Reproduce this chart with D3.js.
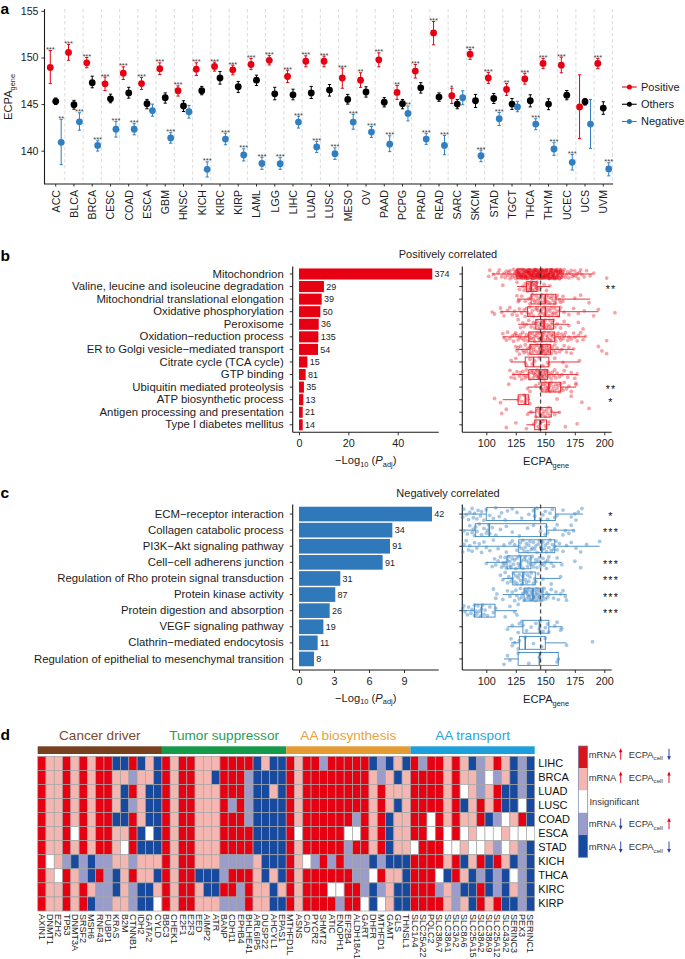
<!DOCTYPE html>
<html><head><meta charset="utf-8">
<script src="https://cdn.jsdelivr.net/npm/d3@7/dist/d3.min.js"></script>
<style>html,body{margin:0;background:#fff}svg{display:block;font-family:"Liberation Sans",Arial,sans-serif}</style>
</head><body><svg id="c" width="685" height="959"></svg>
<script>
// ---------- panel a data ----------
const cancers=["ACC","BLCA","BRCA","CESC","COAD","ESCA","GBM","HNSC","KICH","KIRC","KIRP","LAML","LGG","LIHC","LUAD","LUSC","MESO","OV","PAAD","PCPG","PRAD","READ","SARC","SKCM","STAD","TGCT","THCA","THYM","UCEC","UCS","UVM"];
const posMean=[148.93,150.54,149.43,147.18,148.32,147.2,148.8,146.43,148.75,149.04,148.68,149.25,149.7,147.96,149.6,149.6,147.8,147.57,149.75,146.25,148.54,152.64,145.9,150.36,147.8,146.57,147.7,149.36,149.18,144.7,149.36];
const posHi=[150.75,151.4,150,147.9,149,147.86,149.43,146.96,149.43,149.5,149.18,149.9,150.2,148.64,150.18,150.14,148.86,148.36,150.5,147,149.25,153.86,146.7,150.86,148.4,147.2,148.3,149.9,150.04,148.14,149.9];
const posLo=[147.2,149.7,148.9,146.46,147.64,146.57,148.18,145.86,148.07,148.54,148.14,148.7,149.2,147.3,149,149,146.7,146.8,149,145.5,147.8,151.36,145.07,149.8,147.2,145.93,147.14,148.8,148.36,141.3,148.8];
const posStars=["***","***","***","***","***","***","***","***","***","***","***","***","***","***","***","***","***","**","***","**","***","***","*","***","***","**","***","***","***","","***"];
const othMean=[145.3,144.93,147.3,145.57,146.2,145.04,145.68,144.8,146.43,147.8,146.86,147.57,146.1,146,146.2,146.5,145.5,146.3,145.2,145.04,146.75,145.75,145,145.36,145.6,145,145.36,145,145.96,145.25,144.57];
const othHi=[145.65,145.4,148,146.07,146.8,145.5,146.2,145.36,146.9,148.5,147.43,148.1,146.8,146.6,146.9,147.1,146.04,146.86,145.7,145.5,147.3,146.2,145.5,146.04,146.14,145.6,146,145.57,146.46,145.6,145.25];
const othLo=[144.95,144.45,146.75,145.14,145.64,144.5,145.1,144.2,146,147.14,146.25,147,145.46,145.46,145.6,145.86,145,145.75,144.7,144.5,146.18,145.3,144.5,144.64,145.07,144.43,144.7,144.4,145.46,144.9,143.9];
const negMean=[140.9,143.1,140.57,142.3,142.3,144.3,141.36,144.18,138,141.25,139.54,138.64,138.6,143.07,140.4,139.68,143.07,142,140.7,144,141.25,140.57,145.68,139.46,143.43,144.7,142.86,140.18,138.75,142.86,138.04];
const negHi=[143.36,144.07,141.07,143.14,142.9,145,141.93,144.86,138.8,141.86,140.2,139.3,139.25,143.7,141,140.3,143.9,142.6,141.6,144.8,141.86,141.64,146.43,140.07,144.1,145.3,143.43,140.86,139.6,145.5,138.7];
const negLo=[138.5,142.2,139.96,141.46,141.7,143.7,140.8,143.5,137.18,140.64,138.9,138,138,142.43,139.8,139.07,142.3,141.43,139.9,143.2,140.68,139.57,144.93,138.82,142.7,144.18,142.25,139.5,137.93,140.25,137.3];
const negStars=["**","***","***","***","***","","***","","***","***","***","***","***","***","***","***","***","***","***","**","***","***","","***","***","","***","***","***","","***"];
const groupNames=["Positive","Others","Negative"];
const yTicksA=[140,145,150,155];

// ---------- panel b data ----------
const termsB=["Mitochondrion","Valine, leucine and isoleucine degradation","Mitochondrial translational elongation","Oxidative phosphorylation","Peroxisome","Oxidation\u2212reduction process","ER to Golgi vesicle\u2212mediated transport","Citrate cycle (TCA cycle)","GTP binding","Ubiquitin mediated proteolysis","ATP biosynthetic process","Antigen processing and presentation","Type I diabetes mellitus"];
const logPB=[54,10.1,9.2,8.65,8,7.85,7.7,3.4,2.7,2,1.75,1.5,1.5];
const countB=[374,29,39,50,36,135,54,15,81,35,13,21,14];
const sigB=["","**","","","","","","","","**","*","",""];
const boxB=[[105,126,146,160,190],[126,134,138,143,154],[126,138,150,159,188],[112,135,150,162,195],[127,142,149,157,170],[114,136,147,158,184],[125,137,147,154.5,174],[121,133,140,153,179],[122,136,145,152,177],[135,147,153,163,176],[114,127,133,136,137],[135,142,145.5,155,162],[134,141,145.5,151,154]];
const ptsB=[
[102,103,106,108,110,111,113,115,116,117,118,119,120,120,121,122,123,124,124,125,126,126,127,127,128,128,129,129,130,130,131,131,132,132,133,133,134,134,135,135,136,136,137,137,138,138,139,139,140,140,141,141,142,142,143,143,144,144,145,145,146,146,147,147,148,148,149,149,150,150,151,151,152,152,153,153,154,154,155,155,156,156,157,157,158,158,159,159,160,160,161,161,162,162,163,163,164,164,165,165,166,167,168,169,170,171,172,173,174,175,176,177,178,179,180,181,183,185,188,191,202,
125,126,127,128,129,130,131,132,133,134,135,136,137,138,139,140,141,142,143,144,145,146,147,148,149,150,151,152,153,154,155,156,157,158,159,160,161,162,163,128.5,129.5,130.5,131.5,132.5,133.5,134.5,135.5,136.5,137.5,138.5,139.5,140.5,141.5,142.5,143.5,144.5,145.5,146.5,147.5,148.5,149.5,150.5,151.5,152.5,153.5,154.5,155.5,156.5,157.5,158.5,126.5,127.5,159.5,160.5,161.5,162.5,163.5,164.5,144.2,145.2,146.2,147.2,148.2,149.2,150.2,151.2,139.2,140.2,141.2,142.2,143.2,133.2,134.2,135.2,136.2,137.2,152.2,153.2,154.2,155.2,156.2,157.2],
[114,126,128,131,132,133,134,135,135,136,137,137,138,138,138,139,139,140,141,141,142,142,143,143,144,146,149,151,154],
[126,127,128,130,133,136,137,138,139,140,141,142,143,144,145,146,146,147,148,149,150,150,151,152,153,154,155,156,157,158,159,160,162,163,165,165,175,180,187],
[105,107,112,113,115,118,120,122,124,126,128,130,132,133,134,135,136,137,138,139,140,142,143,144,145,146,147,148,149,150,151,152,153,154,155,156,157,158,159,160,161,162,163,166,170,174,178,183,191,195,209],
[127,129,131,132,134,136,138,140,141,142,143,144,145,146,147,147,148,148,149,149,150,151,152,153,154,155,155,156,157,158,160,163,166,170,178,182],
[114,115,117,118,120,122,123,124,125,126,127,128,129,130,131,132,133,134,135,136,137,137,138,139,140,141,141,142,143,144,145,145,146,147,147,148,148,149,150,151,152,152,153,154,155,155,156,157,158,159,160,161,162,163,164,165,166,167,169,170,172,174,175,177,178,180,182,184,202],
[125,126,127,128,129,131,132,133,134,135,136,137,138,138,139,140,141,142,143,144,145,145,146,146,147,147,148,148,149,149,150,151,151,152,152,153,153,154,155,156,157,158,159,160,162,164,166,168,170,172,174,195,198,202],
[121,125,133,134,137,139,141,145,148,152,153,158,165,168,179],
[120,121,123,124,126,128,129,130,131,132,133,134,135,136,137,138,139,140,140,141,142,143,143,144,144,145,145,146,146,147,147,148,148,149,149,150,150,151,151,152,153,154,155,156,157,158,159,160,162,164,166,169,172,175,177],
[119,135,137,142,145,146,147,148,149,150,150,151,152,152,153,153,154,154,155,156,157,158,159,160,161,162,163,164,165,166,168,170,172,176,176],
[107,112,127,128,130,132,133,134,135,137,160,172,181],
[113,117,135,138,142,143,144,145,146,147,148,149,150,151,152,153,154,155,158,162,187],
[117,125,134,140,142,144,145,146,148,150,151,153,167,177]];

// ---------- panel c data ----------
const termsC=["ECM\u2212receptor interaction","Collagen catabolic process","PI3K\u2212Akt signaling pathway","Cell\u2212cell adherens junction","Regulation of Rho protein signal transduction","Protein kinase activity","Protein digestion and absorption","VEGF signaling pathway","Clathrin\u2212mediated endocytosis","Regulation of epithelial to mesenchymal transition"];
const logPC=[11.4,8,7.8,7.17,3.54,3.11,2.63,2.09,1.6,1.29];
const countC=[42,34,91,91,31,87,26,19,11,8];
const sigC=["*","***","","***","***","***","***","","",""];
const boxC=[[80,100,141,158.5,182],[81,90.6,102.5,151,175],[80,127.5,147,158,196],[100,117.6,129,137.8,164],[114,122.4,131,141.5,163],[114,132,139.5,148,168],[80.4,90,96,107.4,126],[118,131,145,153,164.5],[121,128,133,150,168],[115,127,145,161,162]];
const ptsC=[
[80,81,83,85,86,88,89,90,92,93,95,96,98,100,103,106,108,111,113,116,118,122,126,130,136,140,141,143,146,148,150,152,154,156,158,160,165,172,175,176,178,181],
[81,84,86,88,89,90,91,92,94,96,98,100,101,102,103,105,108,112,117,122,128,135,140,146,150,151,152,158,160,165,167,170,172,174],
[80,81,83,85,86,88,90,92,94,96,98,100,103,106,110,115,117,120,122,124,126,128,129,130,131,132,133,134,135,136,137,138,139,140,141,142,143,144,145,146,147,148,149,150,151,152,153,154,155,156,157,158,159,160,162,165,168,172,176,180,185,196],
[100,105,107,108,110,112,113,114,115,116,116,117,118,119,120,120,121,122,123,124,125,126,127,128,128,129,130,131,132,133,134,135,136,137,138,139,140,141,142,143,144,145,146,147,148,149,150,151,152,153,155,157,160,164,175,180],
[112,114,116,118,119,121,122,123,124,125,126,127,128,129,130,131,132,133,134,135,136,137,138,140,141,142,144,148,155,163],
[106,108,109,114,118,120,122,124,125,126,128,129,130,131,132,133,133,134,134,135,135,136,136,137,137,138,138,139,139,140,140,141,141,142,142,143,143,144,144,145,145,146,146,147,148,149,150,151,152,153,155,157,159,161,163,165,167,168],
[80,81,82,84,85,87,88,90,90,91,92,93,94,95,96,97,98,99,101,103,106,108,116,120,124,126,127],
[118,122,127,128,130,131,134,138,142,145,146,148,150,152,153,158,160,163,164],
[121,122,124,127,128,133,140,147,150,168,190],
[115,118,120,127,136,145,160,161]];
const jitterPattern=[0.5,-0.8,0.1,0.9,-0.3,-0.9,0.6,-0.1,0.8,-0.6,0.3,-0.4,1,-0.7,0.2,0.7,-1,0.4,-0.2,0.95,-0.5,-0.85,-0.25,0.65,0.05,-0.55,0.35,-0.95,0.75,0.15,-0.45,0.85,-0.15,-0.75,0.55,0.25,-0.65,0.45,-0.05,0.98,-0.35,-0.9,0.12,0.62,-0.72,0.38,-0.18,0.88,-0.52,0.22,-0.98,0.72,-0.28,0.48,0.02,-0.82,0.58,-0.42,0.82,-0.12,-0.62,0.32,0.92,-0.32,-0.78,0.18,0.68,-0.58,0.42,-0.22,-0.88,0.78,0.08];
const ticksBarB=[0,20,40], ticksBarC=[0,3,6,9], ticksEcpa=[100,125,150,175,200];
const ecpaRef=146;

// ---------- panel d data ----------
const rowsD=["LIHC","BRCA","LUAD","LUSC","COAD","ESCA","STAD","KICH","THCA","KIRC","KIRP"];
const groupsD=["Cancer driver","Tumor suppressor","AA biosynthesis","AA transport"];
const genesDriver=["AXIN1","DNMT1","EZH2","TP53","DNMT3A","SRSF2","MSH6","RNF43","FUBP1","KRAS","B2M","CTNNB1","IDH2","GATA2","CYLD"];
const codesDriver=["RRRRRRRRRRR","PPPPPPPWPPP","PPPPPPPPWPP","RRRRRRRLRRR","PPPPPWPBPPP","RRRRRRRLLRR","PPPPPPPBBPB","RRRRRRRLRLL","RRRRRRRLLLL","BPPPBPPPBBP","BPBBBPWPPPP","RLRLRRRLRLL","BPPPPBBPPBB","PPBBBWBPPBB","BBBBBBBPBPW"];
const genesSuppressor=["BBC3","CHEK1","E2F1","E2F3","EED","AIMP2","ATR","BANP","CDH11","EPHB4","BHLHE41","ARL6IP5","DUSP22","AHCYL1","EPAS1"];
const codesSuppressor=["RRRRRRRRRRR","PPPPPPPPPPP","RRRRRRRRRRR","RRRRRRRRRRR","PPPPPPPPBPP","PPPPPPPPBBP","PBPPPPPPBBP","RRRRRRRLLRL","RRRLRRRLRRL","RRRRRRRLRLL","RLLLLRRLRRR","BBBBBBBPPPP","PBBBBBBBBPP","BBPBBBBBPBB","BBBBBBBBBPB"];
const genesBiosynth=["MTHFD1L","ASNS","CAD","PYCR2","SHMT2","ATIC","ENOPH1","EIF2B4","ALDH18A1","GART","DHFR","MTHFD1","GAMT","GLS","THNSL1"];
const codesBiosynth=["RRRRRRRRRRR","PPPPPWPPPPP","RRRRRRRWRRR","RRRRRRRLRRR","LRRRRRRRRRR","RRRRRRRLRWR","RRRRRRRRRWL","RRRRRWLLRRR","RRRRLWRLLRR","RRRRRRRLLLW","BPPPPPPBWBB","LLRRRRRLRLW","BPPPBBBBPPP","PBPBPPPBPBB","BPPPPPPBBBB"];
const genesTransport=["SLC1A4","SLC25A22","PQLC2","SLC38A7","SLC38A1","SLC3A2","SLC8A6","SLC25A15","SLC38A2","SLC38A9","SLC25A12","SLC43A2","SERINC3","PEX3","SERINC1"];
const codesTransport=["RRRRRRWRRRR","LRRRRRRRRRR","RRRRWWRRRRR","RRRRRRRRWLR","PPPPPWWPBPP","RRRRRRWRRLL","PPWBPWPBPBP","BPPPPPWPBBB","LLLRRWWRLRR","PWPPBWPBBBP","RLRRLWLRLLR","PPBBWPWPBBB","BBBBPWPBWPB","LLLWRWLLLLL","BBBBBWBBBBB"];
const legendCodes=["R","P","W","L","B"];
const legendMrna=["up","up","","down","down"];
const legendEcpa=["down","up","","up","down"];

// ---------- layout & style ----------
const svg=d3.select("#c");
const FONT_INK="#1c1c1c", AXIS_INK="#1a1a1a";
const COL={pos:"#e60012",oth:"#000000",neg:"#2f7fc1",blue:"#2f79ba"};
const heatCol={R:"#e60012",P:"#f4b6b0",W:"#ffffff",L:"#9a9ccb",B:"#174a9f"};
const groupBar=["#77401f","#149a48","#e39b32","#1d9fdb"];
const groupTxt=["#80492a","#2a9c55","#e8a23e","#2aa5de"];

function letter(t,x,y){svg.append("text").attr("x",x).attr("y",y).attr("font-size",15.5).attr("font-weight","bold").attr("fill","#000").text(t);}
letter("a",0.5,14);letter("b",0.5,261);letter("c",0.5,498);letter("d",0.5,740);

function styleAxis(g,fs){
  g.selectAll("text").attr("font-size",fs).attr("fill",FONT_INK).style("font-family",null);
  g.attr("font-family",null);
  g.selectAll(".tick line").attr("stroke",AXIS_INK).attr("stroke-width",0.9);
  g.select(".domain").attr("stroke",AXIS_INK).attr("stroke-width",1.1);
}
function sub(sel,main,subt,fs){ // label with subscript
  sel.append("tspan").attr("font-size",fs).text(main);
  sel.append("tspan").attr("font-size",fs*0.66).attr("dy",fs*0.28).text(subt);
}

// ---------- panel a ----------
(function(){
  const x=d3.scaleBand().domain(cancers).range([46.6,612.4]);
  const y=d3.scaleLinear().domain([140,150]).range([150.7,57.5]);
  const xb=184,yt=11;
  const groups=[[COL.pos,posMean,posHi,posLo,posStars,-5.45],[COL.oth,othMean,othHi,othLo,null,0],[COL.neg,negMean,negHi,negLo,negStars,5.45]];
  const g=svg.append("g");
  g.selectAll("line.sep").data(cancers.slice(1).concat(["__end"])).enter().append("line")
    .attr("x1",(d,i)=>x.range()[0]+(i+1)*x.step()).attr("x2",(d,i)=>x.range()[0]+(i+1)*x.step())
    .attr("y1",yt-2).attr("y2",xb).attr("stroke","#d8d8d8").attr("stroke-width",0.9).attr("stroke-dasharray","3.5 2.5");
  const ax=svg.append("g").attr("transform",`translate(0,${xb})`).call(d3.axisBottom(x).tickSizeOuter(0).tickSize(2.5));
  styleAxis(ax,10.6);
  ax.selectAll("text").attr("transform","rotate(-90)").attr("text-anchor","end").attr("x",-6).attr("y",0).attr("dy","0.36em");
  const ay=svg.append("g").attr("transform","translate(44.5,0)").call(d3.axisLeft(y).tickValues(yTicksA).tickSizeOuter(0).tickSize(3).tickPadding(3));
  styleAxis(ay,10.6);
  ay.select(".domain").attr("d",`M0,${yt-2}V${xb}`);
  ax.select(".domain").attr("d","M44,0H613");
  groups.forEach(([c,m,hi,lo,st,dx])=>{
    const gg=svg.append("g");
    cancers.forEach((k,i)=>{
      const cx=x(k)+x.bandwidth()/2+dx;
      gg.append("line").attr("x1",cx).attr("x2",cx).attr("y1",y(hi[i])).attr("y2",y(lo[i])).attr("stroke",c).attr("stroke-width",1);
      [hi[i],lo[i]].forEach(v=>gg.append("line").attr("x1",cx-1.6).attr("x2",cx+1.6).attr("y1",y(v)).attr("y2",y(v)).attr("stroke",c).attr("stroke-width",1));
      gg.append("circle").attr("cx",cx).attr("cy",y(m[i])).attr("r",3.4).attr("fill",c);
      if(st&&st[i]) gg.append("text").attr("x",cx).attr("y",y(hi[i])+1.5).attr("text-anchor","middle").attr("font-size",7.5).attr("fill","#444").text(st[i]);
    });
  });
  const t=svg.append("text").attr("transform","translate(11.5,97) rotate(-90)").attr("text-anchor","middle").attr("fill",FONT_INK);
  sub(t,"ECPA","gene",11.2);
  const ly=d3.scalePoint().domain(groupNames).range([87,121.5]);
  [COL.pos,COL.oth,COL.neg].forEach((c,i)=>{
    const yy=ly(groupNames[i]);
    svg.append("line").attr("x1",622).attr("x2",636.7).attr("y1",yy).attr("y2",yy).attr("stroke",c).attr("stroke-width",1.1);
    svg.append("circle").attr("cx",629.4).attr("cy",yy).attr("r",2.5).attr("fill",c);
    svg.append("text").attr("x",641).attr("y",yy+3.8).attr("font-size",11).attr("fill",FONT_INK).text(groupNames[i]);
  });
})();

// ---------- panels b, c ----------
function panel(cfg){
  const {terms,logP,counts,sig,box,pts,color,boxColor,yRange,axisTop,axisBot,barScale,ticks,title,titleY,titleX,labY,alpha,pad}=cfg;
  const y=d3.scaleBand().domain(terms).range(yRange).paddingInner(pad).paddingOuter(pad/2);
  const barX=d3.scaleLinear().domain([0,barScale[0]]).range([299,barScale[1]]);
  svg.selectAll(null).data(terms).enter().append("rect").attr("x",barX(0)).attr("y",d=>y(d)).attr("height",y.bandwidth())
    .attr("width",(d,i)=>barX(logP[i])-barX(0)).attr("fill",color);
  const ay=svg.append("g").attr("transform","translate(292.7,0)").call(d3.axisLeft(y).tickSize(3).tickPadding(6));
  styleAxis(ay,11.35); ay.select(".domain").attr("d",`M0,${axisTop}V${axisBot}`);
  const ax=svg.append("g").attr("transform",`translate(0,${axisBot})`).call(d3.axisBottom(barX).tickValues(ticks).tickSize(3).tickPadding(4.5));
  styleAxis(ax,10.8); ax.select(".domain").attr("d","M292.7,0H438.7");
  svg.selectAll(null).data(terms).enter().append("text").attr("x",(d,i)=>barX(logP[i])+2.3).attr("y",d=>y(d)+y.bandwidth()/2+3.2)
    .attr("font-size",9).attr("fill",FONT_INK).text((d,i)=>counts[i]);
  const t=svg.append("text").attr("x",365.7).attr("y",labY).attr("text-anchor","middle").attr("fill",FONT_INK).attr("font-size",11.2);
  t.append("tspan").text("\u2212Log");t.append("tspan").attr("font-size",7.4).attr("dy",2.7).text("10");
  t.append("tspan").attr("dy",-2.7).text(" (");t.append("tspan").attr("font-style","italic").text("P");
  t.append("tspan").attr("font-size",7.4).attr("dy",2.7).text("adj");t.append("tspan").attr("dy",-2.7).text(")");

  const xE=d3.scaleLinear().domain([100,200]).range([486.3,604.3]);
  const axE=svg.append("g").attr("transform",`translate(0,${axisBot})`).call(d3.axisBottom(xE).tickValues(ticksEcpa).tickSize(3).tickPadding(4.5));
  styleAxis(axE,10.8); axE.select(".domain").attr("d","M462.3,0H611.7");
  const ayE=svg.append("g").attr("transform","translate(462.3,0)").call(d3.axisLeft(y).tickSize(3).tickFormat(""));
  styleAxis(ayE,10); ayE.select(".domain").attr("d",`M0,${axisTop}V${axisBot}`);
  const h=y.bandwidth();
  let k=0;
  terms.forEach((term,i)=>{
    const cy=y(term)+h/2, spread=h*0.42;
    pts[i].forEach(v=>{
      svg.append("circle").attr("cx",xE(v)).attr("cy",cy+jitterPattern[k++%jitterPattern.length]*spread).attr("r",1.9).attr("fill",color).attr("fill-opacity",alpha);
    });
    const [lo,q1,m,q3,hi]=box[i];
    const bh=h*0.88;
    const g=svg.append("g").attr("stroke",boxColor).attr("fill","none");
    g.append("line").attr("x1",xE(lo)).attr("x2",xE(q1)).attr("y1",cy).attr("y2",cy).attr("stroke-width",0.9);
    g.append("line").attr("x1",xE(q3)).attr("x2",xE(hi)).attr("y1",cy).attr("y2",cy).attr("stroke-width",0.9);
    g.append("rect").attr("x",xE(q1)).attr("y",cy-bh/2).attr("width",xE(q3)-xE(q1)).attr("height",bh).attr("stroke-width",0.9);
    g.append("line").attr("x1",xE(m)).attr("x2",xE(m)).attr("y1",cy-bh/2).attr("y2",cy+bh/2).attr("stroke-width",1.5);
    if(sig[i]) svg.append("text").attr("x",611).attr("y",cy+6).attr("text-anchor","middle").attr("font-size",10.7).attr("letter-spacing",1.2).attr("fill","#111").text(sig[i]);
  });
  svg.append("line").attr("x1",xE(ecpaRef)).attr("x2",xE(ecpaRef)).attr("y1",axisTop).attr("y2",axisBot).attr("stroke","#111").attr("stroke-opacity",0.75).attr("stroke-width",1.3).attr("stroke-dasharray","4 3");
  const te=svg.append("text").attr("x",546).attr("y",labY+1).attr("text-anchor","middle").attr("fill",FONT_INK);
  sub(te,"ECPA","gene",11.2);
  svg.append("text").attr("x",titleX).attr("y",titleY).attr("text-anchor","middle").attr("font-size",11).attr("fill",FONT_INK).text(title);
}
panel({terms:termsB,logP:logPB,counts:countB,sig:sigB,box:boxB,pts:ptsB,color:COL.pos,boxColor:"#e5202a",yRange:[267.7,431.1],axisTop:266.5,axisBot:432.3,barScale:[40,397.7],ticks:ticksBarB,title:"Positively correlated",titleY:258,titleX:448,labY:464,alpha:0.36,pad:0.12});
panel({terms:termsC,logP:logPC,counts:countC,sig:sigC,box:boxC,pts:ptsC,color:COL.blue,boxColor:"#3d88c4",yRange:[506,667],axisTop:504.5,axisBot:670,barScale:[9,404],ticks:ticksBarC,title:"Negatively correlated",titleY:496.5,titleX:448,labY:701.5,alpha:0.42,pad:0.09});

// ---------- panel d ----------
(function(){
  const genes=[...genesDriver,...genesSuppressor,...genesBiosynth,...genesTransport];
  const codes=[...codesDriver,...codesSuppressor,...codesBiosynth,...codesTransport];
  const x=d3.scaleBand().domain(genes).range([37.7,534.7]);
  const y=d3.scaleBand().domain(rowsD).range([756.3,911]);
  const membership=[genesDriver,genesSuppressor,genesBiosynth,genesTransport];
  membership.forEach((list,i)=>{
    const x0=x(list[0]),x1=x(list[list.length-1])+x.step();
    svg.append("rect").attr("x",x0).attr("y",746.3).attr("width",x1-x0).attr("height",7.7).attr("fill",groupBar[i]);
    svg.append("text").attr("x",(x0+x1)/2).attr("y",740).attr("text-anchor","middle").attr("font-size",13.6).attr("fill",groupTxt[i]).text(groupsD[i]);
  });
  genes.forEach((g,i)=>rowsD.forEach((r,j)=>{
    svg.append("rect").attr("x",x(g)).attr("y",y(r)).attr("width",x.bandwidth()).attr("height",y.bandwidth())
      .attr("fill",heatCol[codes[i][j]]).attr("stroke","#a5a5a5").attr("stroke-width",0.7);
  }));
  const ax=svg.append("g").attr("transform","translate(0,911)").call(d3.axisBottom(x).tickSize(0));
  ax.select(".domain").remove();
  ax.selectAll("text").attr("font-size",9).attr("fill",FONT_INK).attr("transform","rotate(90)").attr("text-anchor","start").attr("x",3).attr("y",0).attr("dy","0.34em");
  const ar=svg.append("g").attr("transform","translate(534.7,0)").call(d3.axisRight(y).tickSize(0).tickPadding(3.5));
  ar.select(".domain").remove();
  ar.selectAll("text").attr("font-size",11).attr("fill","#111");
  const ly=d3.scaleBand().domain(legendCodes).range([746,857.3]);
  const lt=d3.scalePoint().domain(legendCodes).range([754.3,847]);
  legendCodes.forEach((c,i)=>{
    svg.append("rect").attr("x",578.3).attr("y",ly(c)).attr("width",9.4).attr("height",ly.bandwidth()).attr("fill",c==="R"?"#d8141c":heatCol[c]);
  });
  svg.append("rect").attr("x",578.3).attr("y",746).attr("width",9.4).attr("height",111.3).attr("fill","none").attr("stroke","#6f83b0").attr("stroke-width",0.7);
  function arrow(cx,cy,dir){
    const c=dir==="up"?"#e0001a":"#1e3c96", s=dir==="up"?-1:1;
    svg.append("line").attr("x1",cx).attr("x2",cx).attr("y1",cy-s*5.5).attr("y2",cy+s*3).attr("stroke",c).attr("stroke-width",0.9);
    svg.append("path").attr("d",d3.line()([[cx-1.8,cy+s*2],[cx,cy+s*6],[cx+1.8,cy+s*2]])+"Z").attr("fill",c);
  }
  legendCodes.forEach((c,i)=>{
    const cy=lt(c);
    if(!legendMrna[i]){
      svg.append("text").attr("x",589.5).attr("y",cy+1.5+3.2).attr("font-size",9.4).attr("fill","#333").text("Insignificant");
      return;
    }
    svg.append("text").attr("x",588.7).attr("y",cy+3.2).attr("font-size",9.4).attr("fill","#333").text("mRNA");
    arrow(620.7,cy,legendMrna[i]);
    const t=svg.append("text").attr("x",628.7).attr("y",cy+3.2).attr("fill","#333");
    sub(t,"ECPA","cell",9.4);
    arrow(669,cy,legendEcpa[i]);
  });
})();
</script></body></html>
